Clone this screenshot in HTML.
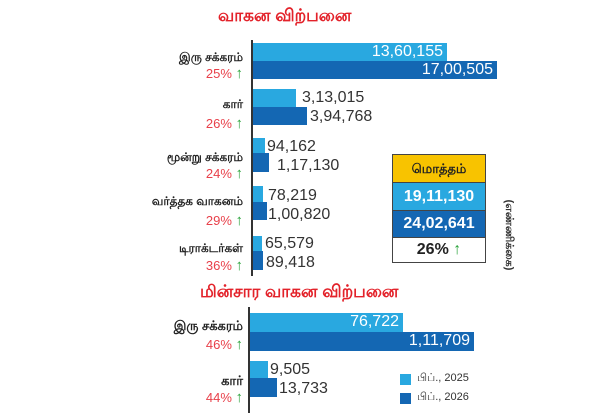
<!DOCTYPE html>
<html><head><meta charset="utf-8"><style>
body{margin:0;width:600px;height:413px;background:#fff;position:relative;overflow:hidden;font-family:"Liberation Sans","DejaVu Sans",sans-serif}
.a{position:absolute}
.t{color:#e3222a;font-weight:bold;font-size:17px;white-space:nowrap}
.l{right:357px;text-align:right;font-size:12px;color:#222;white-space:nowrap;font-weight:bold}
.p{right:357px;text-align:right;font-size:13px;color:#e8404a;white-space:nowrap}
.p b{color:#2aa33b;font-size:15px}
.b1{background:#29a8e0}.b2{background:#1467b3}
.v{font-size:16px;color:#333;white-space:nowrap}
.w{color:#fff;text-align:right;font-size:16px;padding-right:4px;box-sizing:border-box;line-height:18px}
.bx{left:392px;width:94px;text-align:center;font-weight:bold;font-size:16px;border:1px solid #444;box-sizing:border-box}
</style></head><body>
<div class="a t" style="left:218px;top:6px">வாகன விற்பனை</div>
<div class="a" style="left:251px;top:40px;width:2px;height:236px;background:#333"></div>
<div class="a b1 w" style="left:253px;top:43px;width:194px;height:18px">13,60,155</div>
<div class="a b2 w" style="left:253px;top:61px;width:244px;height:18px">17,00,505</div>
<div class="a l" style="top:50px">இரு சக்கரம்</div><div class="a p" style="top:65px">25% <b>↑</b></div>
<div class="a b1" style="left:253px;top:89px;width:43px;height:18px"></div><div class="a v" style="left:302px;top:89px">3,13,015</div>
<div class="a b2" style="left:253px;top:107px;width:54px;height:18px"></div><div class="a v" style="left:310px;top:108px">3,94,768</div>
<div class="a l" style="top:97px">கார்</div><div class="a p" style="top:115px">26% <b>↑</b></div>
<div class="a b1" style="left:253px;top:138px;width:12px;height:15px"></div><div class="a v" style="left:267px;top:138px">94,162</div>
<div class="a b2" style="left:253px;top:153px;width:16px;height:19px"></div><div class="a v" style="left:277px;top:157px">1,17,130</div>
<div class="a l" style="top:150px">மூன்று சக்கரம்</div><div class="a p" style="top:165px">24% <b>↑</b></div>
<div class="a b1" style="left:253px;top:186px;width:10px;height:16px"></div><div class="a v" style="left:268px;top:187px">78,219</div>
<div class="a b2" style="left:253px;top:202px;width:14px;height:18px"></div><div class="a v" style="left:268px;top:206px">1,00,820</div>
<div class="a l" style="top:194px">வர்த்தக வாகனம்</div><div class="a p" style="top:212px">29% <b>↑</b></div>
<div class="a b1" style="left:253px;top:236px;width:9px;height:15px"></div><div class="a v" style="left:265px;top:235px">65,579</div>
<div class="a b2" style="left:253px;top:251px;width:10px;height:19px"></div><div class="a v" style="left:266px;top:254px">89,418</div>
<div class="a l" style="top:241px">டிராக்டர்கள்</div><div class="a p" style="top:257px">36% <b>↑</b></div>

<div class="a bx" style="top:154px;height:29px;line-height:27px;background:#f8c300;font-size:13px;color:#222">மொத்தம்</div>
<div class="a bx" style="top:182px;height:29px;line-height:27px;background:#29a8e0;color:#fff">19,11,130</div>
<div class="a bx" style="top:210px;height:28px;line-height:26px;background:#1467b3;color:#fff">24,02,641</div>
<div class="a bx" style="top:237px;height:26px;line-height:24px;background:#fff;color:#222">26% <span style="color:#2aa33b">↑</span></div>
<div class="a" style="left:443px;top:228px;width:130px;text-align:center;transform:rotate(90deg);font-size:11px;color:#333;white-space:nowrap;font-weight:bold">(எண்ணிக்கை)</div>

<div class="a t" style="left:200px;top:282px">மின்சார வாகன விற்பனை</div>
<div class="a" style="left:248px;top:307px;width:2px;height:106px;background:#333"></div>
<div class="a b1 w" style="left:250px;top:313px;width:153px;height:19px">76,722</div>
<div class="a b2 w" style="left:250px;top:332px;width:224px;height:19px">1,11,709</div>
<div class="a l" style="top:318px;font-size:13px">இரு சக்கரம்</div><div class="a p" style="top:336px">46% <b>↑</b></div>
<div class="a b1" style="left:250px;top:361px;width:18px;height:17px"></div><div class="a v" style="left:270px;top:361px">9,505</div>
<div class="a b2" style="left:250px;top:378px;width:27px;height:19px"></div><div class="a v" style="left:279px;top:380px">13,733</div>
<div class="a l" style="top:373px;font-size:13px">கார்</div><div class="a p" style="top:389px">44% <b>↑</b></div>
<div class="a b1" style="left:400px;top:374px;width:11px;height:11px"></div><div class="a" style="left:417px;top:372px;font-size:11px;color:#333">பிப்., 2025</div>
<div class="a b2" style="left:400px;top:393px;width:11px;height:11px"></div><div class="a" style="left:417px;top:391px;font-size:11px;color:#333">பிப்., 2026</div>
</body></html>
